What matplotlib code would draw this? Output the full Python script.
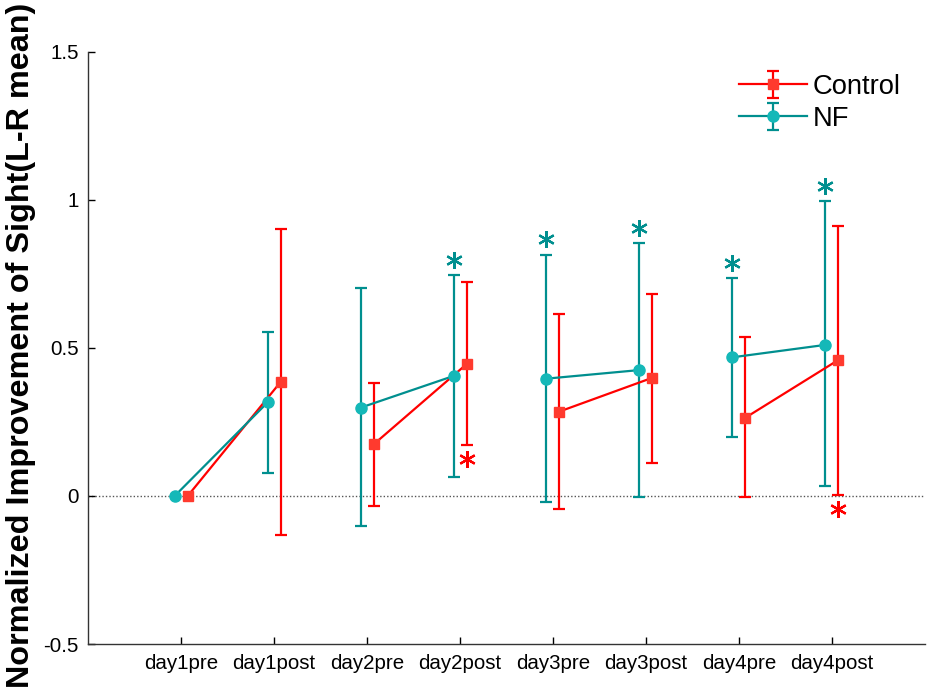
import numpy as np
import matplotlib
matplotlib.use("Agg")
import matplotlib.pyplot as plt
from matplotlib.legend_handler import HandlerTuple

plt.rcParams['font.family'] = ['Liberation Sans', 'DejaVu Sans']

categories = ['day1pre', 'day1post', 'day2pre', 'day2post',
              'day3pre', 'day3post', 'day4pre', 'day4post']

ctrl_mean = [0.0, 0.385, 0.174, 0.445, 0.285, 0.399, 0.264, 0.459]
ctrl_low  = [0.0, -0.133, -0.033, 0.171, -0.043, 0.112, -0.003, 0.003]
ctrl_high = [0.0, 0.900, 0.382, 0.721, 0.614, 0.682, 0.538, 0.911]

nf_mean = [0.0, 0.316, 0.298, 0.405, 0.396, 0.425, 0.468, 0.510]
nf_low  = [0.0, 0.078, -0.103, 0.064, -0.022, -0.005, 0.200, 0.032]
nf_high = [0.0, 0.555, 0.701, 0.745, 0.813, 0.853, 0.736, 0.996]

# significance stars: (category index, y value)
nf_stars = [(3, 0.797), (4, 0.866), (5, 0.906), (6, 0.787), (7, 1.047)]
ctrl_stars = [(3, 0.125), (7, -0.045)]

yticks = [-0.5, 0, 0.5, 1, 1.5]
ytick_labels = ['-0.5', '0', '0.5', '1', '1.5']

RED = '#FF0000'
RED_FACE = '#FF3A2E'
TEAL = '#008F8F'
TEAL_FACE = '#14B8B8'
off = 0.07

fig = plt.figure(figsize=(9.35, 6.94), dpi=100)
ax = fig.add_axes([88.3/935, 1-644/694, (924.7-88.3)/935, (644-51.7)/694])

x = np.arange(1, len(categories)+1)
xc = x + off
xn = x - off

ax.axhline(0, color='#555555', lw=1.0, ls=(0, (1, 1.5)), zorder=1)

def draw(xs, mean, low, high, color, face, marker, ms):
    mean = np.array(mean); low = np.array(low); high = np.array(high)
    yerr = np.vstack([mean-low, high-mean])
    mask = (yerr.sum(axis=0) > 0)
    eb = ax.errorbar(xs[mask], mean[mask], yerr=yerr[:, mask], fmt='none',
                     ecolor=color, elinewidth=1.6, capsize=4, capthick=1.6, zorder=2)
    line = None
    for d in range(0, len(xs), 2):
        ln, = ax.plot(xs[d:d+2], mean[d:d+2], color=color, lw=1.6,
                      marker=marker, ms=ms, mfc=face, mec=face, zorder=3)
        if line is None:
            line = ln
    return eb, line

eb_c, ln_c = draw(xc, ctrl_mean, ctrl_low, ctrl_high, RED, RED_FACE, 's', 7.5)
eb_n, ln_n = draw(xn, nf_mean, nf_low, nf_high, TEAL, TEAL_FACE, 'o', 8)

for i, yv in nf_stars:
    ax.plot(xn[i], yv, marker=(6, 2, 0), ms=12, mew=1.6, color=TEAL, ls='none', zorder=4)
for i, yv in ctrl_stars:
    ax.plot(xc[i], yv, marker=(6, 2, 0), ms=12, mew=1.6, color=RED, ls='none', zorder=4)

ax.set_xlim(0, 9)
ax.set_ylim(-0.5, 1.5)
ax.set_xticks(x)
ax.set_xticklabels(categories)
ax.set_yticks(yticks)
ax.set_yticklabels(ytick_labels)
ax.tick_params(direction='in', length=5, width=1, labelsize=14.8, colors='black', pad=7)
for s in ['top', 'right']:
    ax.spines[s].set_visible(False)
for s in ['left', 'bottom']:
    ax.spines[s].set_color('#333333')
    ax.spines[s].set_linewidth(1.0)

leg = ax.legend([(eb_c, ln_c), (eb_n, ln_n)], ['Control', 'NF'],
                handler_map={tuple: HandlerTuple(ndivide=1)},
                loc='upper left', bbox_to_anchor=(739/935, 1-74/694),
                bbox_transform=fig.transFigure, frameon=False, fontsize=19.7,
                borderpad=0, borderaxespad=0, handlelength=2.5, handletextpad=0.2,
                labelspacing=0.22)

fig.text(6/935, 1-345.5/694, 'Normalized Improvement of Sight(L-R mean)',
         rotation=90, ha='left', va='center', fontsize=23.3, fontweight='bold')

fig.savefig('out.png', dpi=100)
